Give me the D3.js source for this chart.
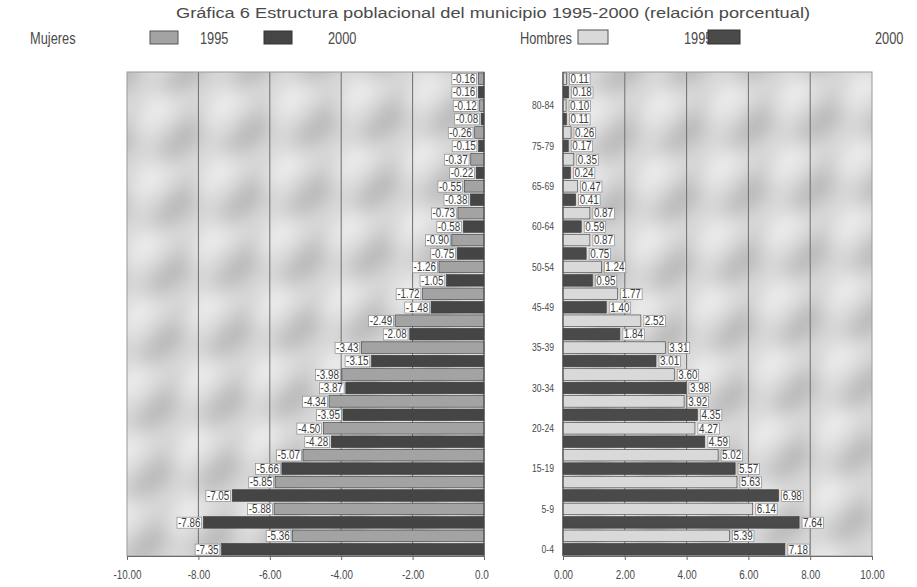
<!DOCTYPE html>
<html>
<head>
<meta charset="utf-8">
<script src="https://cdn.jsdelivr.net/npm/d3@7"></script>
<style>
  html, body { margin: 0; padding: 0; background: #ffffff; }
  svg { display: block; }
  text { font-family: "Liberation Sans", Arial, sans-serif; }
</style>
</head>
<body>
<svg id="chart" width="917" height="587"></svg>
<script>
// Age groups, youngest first (bottom of the pyramid)
const ageGroups = ["0-4","5-9","10-14","15-19","20-24","25-29","30-34","35-39","40-44",
                   "45-49","50-54","55-59","60-64","65-69","70-74","75-79","80-84","85+"];

// Women (plotted to the left, as negative percentages)
const mujeres1995 = [-5.36,-5.88,-5.85,-5.07,-4.50,-4.34,-3.98,-3.43,-2.49,
                     -1.72,-1.26,-0.90,-0.73,-0.55,-0.37,-0.26,-0.12,-0.16];
const mujeres2000 = [-7.35,-7.86,-7.05,-5.66,-4.28,-3.95,-3.87,-3.15,-2.08,
                     -1.48,-1.05,-0.75,-0.58,-0.38,-0.22,-0.15,-0.08,-0.16];

// Men (plotted to the right)
const hombres1995 = [5.39,6.14,5.63,5.02,4.27,3.92,3.60,3.31,2.52,
                     1.77,1.24,0.87,0.87,0.47,0.35,0.26,0.10,0.11];
const hombres2000 = [7.18,7.64,6.98,5.57,4.59,4.35,3.98,3.01,1.84,
                     1.40,0.95,0.75,0.59,0.41,0.24,0.17,0.11,0.18];

// Category labels shown on the men's axis (one every third bar slot)
const ageTickLabels = ["0-4","5-9","15-19","20-24","30-34","35-39",
                       "45-49","50-54","60-64","65-69","75-79","80-84"];

const leftTicks  = [-10,-8,-6,-4,-2,0];
const rightTicks = [0,2,4,6,8,10];

const title = "Gráfica 6 Estructura poblacional del municipio 1995-2000 (relación porcentual)";

const svg = d3.select("#chart");
// Plain hyphen for negatives, two decimals
const fmt = d3.formatLocale({ decimal: ".", thousands: ",", grouping: [3],
                              currency: ["", ""], minus: "-" }).format(".2f");

// Squeeze text horizontally to imitate a narrow typeface
function condense(sel, factor) {
  sel.each(function () {
    const len = this.getComputedTextLength();
    d3.select(this).attr("textLength", len * factor).attr("lengthAdjust", "spacingAndGlyphs");
  });
}

const plotTop = 72, plotBottom = 556;
const leftPanel  = { x0: 127, x1: 484 };
const rightPanel = { x0: 563, x1: 872 };

// Every age group owns two bar slots: 2000 below, 1995 above
const slotCount = ageGroups.length * 2;
const y = d3.scaleBand()
  .domain(d3.range(slotCount))
  .range([plotBottom, plotTop])
  .paddingInner(0.14)
  .paddingOuter(0.07);

const xL = d3.scaleLinear().domain([-10, 0]).range([leftPanel.x0, leftPanel.x1]);
const xR = d3.scaleLinear().domain([0, 10]).range([rightPanel.x0, rightPanel.x1]);

const COL = {
  mujeres1995: "#a3a3a3",
  mujeres2000: "#454545",
  hombres1995: "#d9d9d9",
  hombres2000: "#4a4a4a",
  text: "#4a4a4a"
};

function rows(v1995, v2000) {
  const out = [];
  ageGroups.forEach((g, i) => {
    out.push({ group: g, year: 2000, value: v2000[i], slot: 2 * i });
    out.push({ group: g, year: 1995, value: v1995[i], slot: 2 * i + 1 });
  });
  return out;
}

const defs = svg.append("defs");
defs.append("filter").attr("id", "soft")
  .attr("x", "-20%").attr("y", "-20%").attr("width", "140%").attr("height", "140%")
  .append("feGaussianBlur").attr("stdDeviation", 10);

// Streaky grey texture that fills each plot area
function texture(panel, id) {
  const w = panel.x1 - panel.x0, h = plotBottom - plotTop;
  defs.append("clipPath").attr("id", id)
    .append("rect").attr("x", panel.x0).attr("y", plotTop).attr("width", w).attr("height", h);
  const g = svg.append("g").attr("clip-path", `url(#${id})`);
  g.append("rect").attr("x", panel.x0).attr("y", plotTop).attr("width", w).attr("height", h)
    .attr("fill", "#d8d8d8");
  const blobs = g.append("g").attr("filter", "url(#soft)")
    .attr("transform", `translate(${panel.x0},${plotTop}) rotate(-45)`);
  const step = 104;
  for (let i = -9; i < 9; i++) {
    for (let j = -3; j < 16; j++) {
      const cx = i * step + (j % 2) * step / 2;
      const cy = j * step * 0.42;
      blobs.append("ellipse").attr("cx", cx).attr("cy", cy)
        .attr("rx", 44).attr("ry", 10).attr("fill", "#b0b0b0");
      blobs.append("ellipse").attr("cx", cx + step / 2).attr("cy", cy + 4)
        .attr("rx", 40).attr("ry", 8).attr("fill", "#f8f8f8");
    }
  }
  return g;
}

texture(leftPanel, "clipL");
texture(rightPanel, "clipR");

// Vertical gridlines
svg.append("g").selectAll("line").data(leftTicks.slice(1, -1)).join("line")
  .attr("x1", d => xL(d)).attr("x2", d => xL(d))
  .attr("y1", plotTop).attr("y2", plotBottom)
  .attr("stroke", "#6e6e6e").attr("stroke-width", 1);
svg.append("g").selectAll("line").data(rightTicks.slice(1, -1)).join("line")
  .attr("x1", d => xR(d)).attr("x2", d => xR(d))
  .attr("y1", plotTop).attr("y2", plotBottom)
  .attr("stroke", "#6e6e6e").attr("stroke-width", 1);

// Plot frames
[leftPanel, rightPanel].forEach(p => {
  svg.append("rect").attr("x", p.x0).attr("y", plotTop)
    .attr("width", p.x1 - p.x0).attr("height", plotBottom - plotTop)
    .attr("fill", "none").attr("stroke", "#9a9a9a").attr("stroke-width", 1);
});

// Bars
const women = rows(mujeres1995, mujeres2000);
const men = rows(hombres1995, hombres2000);

svg.append("g").selectAll("rect").data(women).join("rect")
  .attr("x", d => xL(d.value))
  .attr("width", d => xL(0) - xL(d.value))
  .attr("y", d => y(d.slot))
  .attr("height", y.bandwidth())
  .attr("fill", d => d.year === 1995 ? COL.mujeres1995 : COL.mujeres2000)
  .attr("stroke", "#3a3a3a").attr("stroke-width", 0.6);

svg.append("g").selectAll("rect").data(men).join("rect")
  .attr("x", xR(0))
  .attr("width", d => xR(d.value) - xR(0))
  .attr("y", d => y(d.slot))
  .attr("height", y.bandwidth())
  .attr("fill", d => d.year === 1995 ? COL.hombres1995 : COL.hombres2000)
  .attr("stroke", "#3a3a3a").attr("stroke-width", 0.6);

// Value axes
const axisL = svg.append("g").attr("transform", `translate(0,${plotBottom})`)
  .call(d3.axisBottom(xL).tickValues(leftTicks).tickFormat(fmt).tickSize(4));
const axisR = svg.append("g").attr("transform", `translate(0,${plotBottom})`)
  .call(d3.axisBottom(xR).tickValues(rightTicks).tickFormat(fmt).tickSize(4));
defs.append("clipPath").attr("id", "clipAxisL")
  .append("rect").attr("x", 90).attr("y", -2).attr("width", 399).attr("height", 40);
axisL.attr("clip-path", "url(#clipAxisL)");
[axisL, axisR].forEach(a => {
  a.select(".domain").attr("stroke", "#6a6a6a");
  a.selectAll(".tick line").attr("stroke", "#6a6a6a");
  a.selectAll(".tick text").attr("fill", COL.text).attr("font-size", 12)
    .attr("dy", "1.3em")
    .attr("font-family", "'Liberation Sans', Arial, sans-serif")
    .call(condense, 0.82);
});

// Zero lines
svg.append("line").attr("x1", xL(0)).attr("x2", xL(0)).attr("y1", plotTop).attr("y2", plotBottom)
  .attr("stroke", "#4a4a4a");
svg.append("line").attr("x1", xR(0)).attr("x2", xR(0)).attr("y1", plotTop).attr("y2", plotBottom)
  .attr("stroke", "#4a4a4a");

// Age labels on the men's axis
svg.append("g").selectAll("text").data(ageTickLabels).join("text")
  .attr("x", xR(0) - 9)
  .attr("y", (d, i) => y(i * 3) + y.bandwidth() / 2)
  .attr("dy", "0.35em")
  .attr("text-anchor", "end")
  .attr("font-size", 10.5)
  .attr("fill", COL.text)
  .text(d => d)
  .call(condense, 0.82);

// Value labels in small white boxes at the end of each bar
function valueLabels(data, xs, side) {
  const g = svg.append("g");
  const items = g.selectAll("g").data(data).join("g");
  items.append("rect");
  items.append("text")
    .attr("x", d => side === "left" ? xs(d.value) - 3 : xs(d.value) + 4)
    .attr("y", d => y(d.slot) + y.bandwidth() / 2)
    .attr("dy", "0.36em")
    .attr("text-anchor", side === "left" ? "end" : "start")
    .attr("font-size", 12)
    .attr("fill", "#3c3c3c")
    .text(d => fmt(d.value))
    .call(condense, 0.82);
  items.each(function () {
    const t = d3.select(this).select("text");
    const bb = t.node().getBBox();
    d3.select(this).select("rect")
      .attr("x", bb.x - 1).attr("y", bb.y + 1.5)
      .attr("width", bb.width + 2).attr("height", bb.height - 3)
      .attr("fill", "#ffffff").attr("stroke", "#8a8a8a").attr("stroke-width", 0.7);
  });
}
valueLabels(women, xL, "left");
valueLabels(men, xR, "right");

// Title
svg.append("text")
  .attr("x", 176).attr("y", 18)
  .attr("font-size", 15.5)
  .attr("fill", "#4a4a4a")
  .attr("textLength", 634).attr("lengthAdjust", "spacingAndGlyphs")
  .text(title);

// Legend
const legendY = 38;
const legend = svg.append("g").attr("fill", "#4a4a4a").attr("font-size", 16);
legend.append("text").attr("x", 30).attr("y", legendY + 6).text("Mujeres").call(condense, 0.8);
legend.append("rect").attr("x", 150).attr("y", legendY - 7).attr("width", 28).attr("height", 13)
  .attr("fill", COL.mujeres1995).attr("stroke", "#555");
legend.append("text").attr("x", 200).attr("y", legendY + 6).text("1995").call(condense, 0.8);
legend.append("rect").attr("x", 264).attr("y", legendY - 7).attr("width", 28).attr("height", 13)
  .attr("fill", COL.mujeres2000).attr("stroke", "#333");
legend.append("text").attr("x", 328).attr("y", legendY + 6).text("2000").call(condense, 0.8);
legend.append("text").attr("x", 520).attr("y", legendY + 6).text("Hombres").call(condense, 0.8);
legend.append("rect").attr("x", 578).attr("y", legendY - 8).attr("width", 30).attr("height", 14)
  .attr("fill", COL.hombres1995).attr("stroke", "#555");
legend.append("text").attr("x", 684).attr("y", legendY + 6).text("1995").call(condense, 0.8);
legend.append("rect").attr("x", 708).attr("y", legendY - 8).attr("width", 32).attr("height", 14)
  .attr("fill", COL.hombres2000).attr("stroke", "#333");
legend.append("text").attr("x", 875).attr("y", legendY + 6).text("2000").call(condense, 0.8);
</script>
</body>
</html>
